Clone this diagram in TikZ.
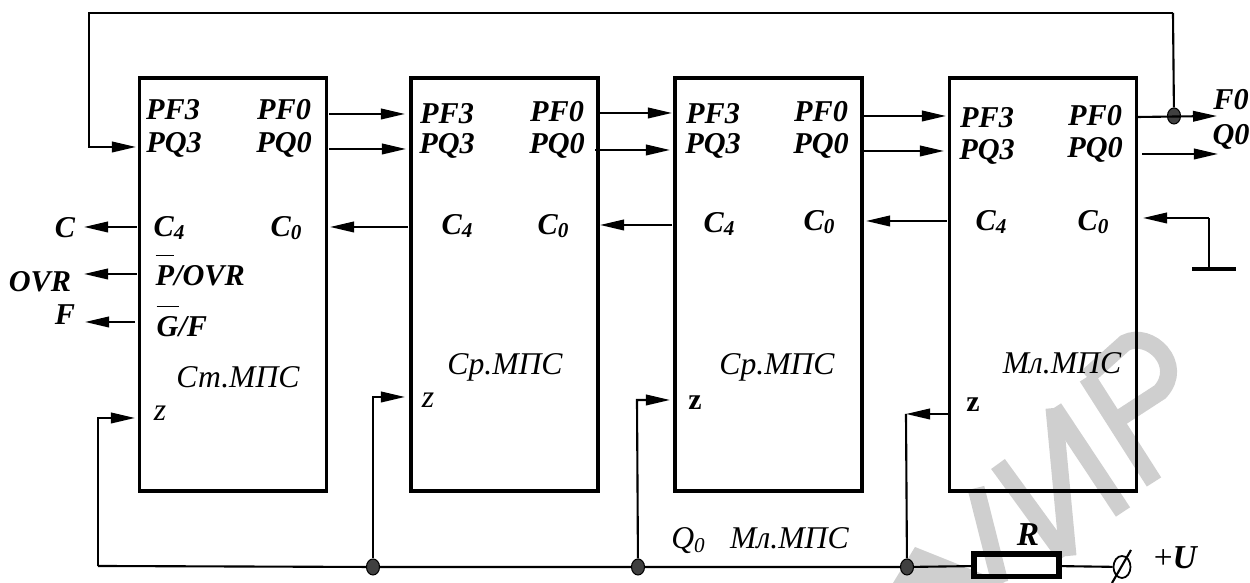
\documentclass[tikz,border=0pt]{standalone}
\usepackage{fontspec}
\setmainfont{Liberation Serif}
\usepackage{tikz}
\usetikzlibrary{arrows.meta,shapes.geometric}
\tikzset{
  block/.style={draw, line width=1pt, minimum width=1.87cm, minimum height=4.13cm, inner sep=0, outer sep=0},
  lab/.style={inner sep=0, font=\bfseries\itshape\fontsize{8.6}{8.6}\selectfont},
  title/.style={inner sep=0, font=\itshape\fontsize{9}{9}\selectfont},
  zpin/.style={inner sep=0, font=\bfseries\fontsize{8.5}{8.5}\selectfont},
  wire/.style={line width=0.6pt},
  arr/.style={line width=0.6pt, -{Triangle[length=2.4mm,width=1.05mm]}},
  dot/.style={draw, fill=black!75, ellipse, line width=0.3pt, minimum width=1.3mm, minimum height=1.6mm, inner sep=0},
  wmark/.style={line width=0.17cm, color=black!19},
}
\begin{document}
\begin{tikzpicture}[x=0.01cm,y=-0.01cm]
\useasboundingbox (0,0) rectangle (1250,583);
% watermark
\fill[black!19] (915,547)--(1005,583)--(893,583)--cycle;
\draw[wmark] (976,488)--(1000,583);
\draw[wmark] (998,464)--(1065,556);
\draw[wmark] (1054,408)--(1068,556);
\draw[wmark] (1054,408)--(1123,512);
\draw[wmark] (1087,377)--(1154,482);
\draw[wmark] (1087,377)--(1125,343) .. controls (1150,330) and (1185,365) .. (1160,392)--(1120,418);
% blocks
\node[block] (st) at (233,284.5) {};
\node[block] (sra) at (504.5,284.5) {};
\node[block] (srb) at (768.5,284.5) {};
\node[block] (ml) at (1043,284.5) {};
% block labels
\node[lab] (stf3) at (173,110) {PF3};
\node[lab] (stq3) at (174,145) {PQ3};
\node[lab] (stf0) at (284,110) {PF0};
\node[lab] (stq0) at (284,145) {PQ0};
\node[lab] (stc4) at (170,228) {C\textsubscript{4}};
\node[lab] (stc0) at (287,228) {C\textsubscript{0}};
\node[lab,anchor=base west] (stp) at (155,286) {$\overline{\mbox{\rule{0pt}{7.2pt}P}}$/OVR};
\node[lab,anchor=base west] (stg) at (156,337) {$\overline{\mbox{\rule{0pt}{7.2pt}G}}$/F};
\node[title] (stn) at (238,377) {Ст.МПС};
\node[title] (stz) at (160,413) {z};
\node[lab] (saf3) at (447,114) {PF3};
\node[lab] (saq3) at (447,146) {PQ3};
\node[lab] (saf0) at (557,112) {PF0};
\node[lab] (saq0) at (557,146) {PQ0};
\node[lab] (sac4) at (458,226) {C\textsubscript{4}};
\node[lab] (sac0) at (554,226) {C\textsubscript{0}};
\node[title] (san) at (505,367) {Ср.МПС};
\node[title] (saz) at (428,400) {z};
\node[lab] (sbf3) at (713,114) {PF3};
\node[lab] (sbq3) at (713,146) {PQ3};
\node[lab] (sbf0) at (821,112) {PF0};
\node[lab] (sbq0) at (821,146) {PQ0};
\node[lab] (sbc4) at (720,224) {C\textsubscript{4}};
\node[lab] (sbc0) at (820,222) {C\textsubscript{0}};
\node[title] (sbn) at (777,367) {Ср.МПС};
\node[zpin] (sbz) at (695,403) {z};
\node[lab] (mlf3) at (987,118) {PF3};
\node[lab] (mlq3) at (987,152) {PQ3};
\node[lab] (mlf0) at (1095,116) {PF0};
\node[lab] (mlq0) at (1095,150) {PQ0};
\node[lab] (mlc4) at (992,222) {C\textsubscript{4}};
\node[lab] (mlc0) at (1094,222) {C\textsubscript{0}};
\node[title] (mln) at (1062,363) {Мл.МПС};
\node[zpin] (mlz) at (973,405) {z};
% outer labels
\node[lab] (outc) at (65,228) {C};
\node[lab] (outovr) at (40,282) {OVR};
\node[lab] (outf) at (65,315) {F};
\node[lab] (outfz) at (1231,100) {F0};
\node[lab] (outqz) at (1231,137) {Q0};
\node[title] (qml) at (760,541) {Q\textsubscript{0}\ \ \ Мл.МПС};
% pins
\coordinate (ptop) at (89,13);
\coordinate (ptopr) at (1173,13);
\coordinate (pq3c) at (89,147);
\coordinate (pq3) at (136,147);
\coordinate (af0a) at (329,114); \coordinate (af0b) at (405,114);
\coordinate (aq0a) at (329,149); \coordinate (aq0b) at (406,149);
\coordinate (ac0a) at (408,227); \coordinate (ac0b) at (330,227);
\coordinate (cc4) at (137,227); \coordinate (cout) at (84,227);
\coordinate (cp) at (137,274); \coordinate (ovrout) at (84,274);
\coordinate (cg) at (135,322); \coordinate (fout) at (85,322);
\coordinate (bf0a) at (600,113); \coordinate (bf0b) at (672,113);
\coordinate (bq0a) at (595,150); \coordinate (bq0b) at (670,150);
\coordinate (bc0a) at (672,225); \coordinate (bc0b) at (600,225);
\coordinate (cf0a) at (864,116); \coordinate (cf0b) at (946,116);
\coordinate (cq0a) at (864,151); \coordinate (cq0b) at (944,151);
\coordinate (cc0a) at (947,221); \coordinate (cc0b) at (866,221);
\coordinate (ff0a) at (1138,117); \coordinate (ff0b) at (1217,116);
\coordinate (fq0a) at (1142,154); \coordinate (fq0b) at (1218,154);
\coordinate (gnd) at (1209,218); \coordinate (gc0) at (1143,218);
\coordinate (gndb) at (1209,268); \coordinate (gndl) at (1192,269); \coordinate (gndr) at (1236,269);
% bottom line
\coordinate (bl) at (98,566);
\coordinate (zst) at (135,418); \coordinate (zstc) at (98,418);
\coordinate (zsa) at (405,397); \coordinate (zsac) at (373,397);
\coordinate (zsb) at (670,400); \coordinate (zsbc) at (637,400);
\coordinate (zml) at (949,414); \coordinate (zmlc) at (906,414);
\node[dot] (da) at (373,567) {};
\node[dot] (db) at (638,567) {};
\node[dot] (dc) at (907,567) {};
\node[dot] (dt) at (1174,116) {};
\node[draw,line width=1.7pt,minimum width=0.85cm,minimum height=0.22cm,inner sep=0,outer sep=0] (res) at (1016.5,565.5) {};
\node[lab,font=\bfseries\itshape\fontsize{9.5}{9.5}\selectfont] (rlab) at (1028,535) {R};
\node[draw,ellipse,line width=0.5pt,minimum width=0.17cm,minimum height=0.22cm,inner sep=0] (term) at (1122,567) {};
\coordinate (sla) at (1112,583); \coordinate (slb) at (1131,550);
\node[inner sep=0,font=\fontsize{9.5}{9.5}\selectfont] (ulab) at (1176,558) {+\textbf{\textit{U}}};
% connectors
\draw[arr] (ptopr)--(ptop)--(pq3c)--(pq3);
\draw[wire] (ptopr)--(dt);
\draw[arr] (af0a)--(af0b);
\draw[arr] (aq0a)--(aq0b);
\draw[arr] (ac0a)--(ac0b);
\draw[arr] (cc4)--(cout);
\draw[arr] (cp)--(ovrout);
\draw[arr] (cg)--(fout);
\draw[arr] (bf0a)--(bf0b);
\draw[arr] (bq0a)--(bq0b);
\draw[arr] (bc0a)--(bc0b);
\draw[arr] (cf0a)--(cf0b);
\draw[arr] (cq0a)--(cq0b);
\draw[arr] (cc0a)--(cc0b);
\draw[arr] (ff0a)--(ff0b);
\draw[arr] (fq0a)--(fq0b);
\draw[arr] (gnd)--(gc0);
\draw[wire] (gnd)--(gndb);
\draw[line width=1.4pt] (gndl)--(gndr);
\draw[arr] (bl)--(zstc)--(zst);
\draw[arr] (da)--(zsac)--(zsa);
\draw[arr] (db)--(zsbc)--(zsb);
\draw[arr] (zml)--(zmlc);
\draw[wire] (zmlc)--(dc);
\draw[wire] (bl)--(da)--(db)--(dc)--(res);
\draw[wire] (res)--(term);
\draw[wire] (sla)--(slb);
\end{tikzpicture}
\end{document}
